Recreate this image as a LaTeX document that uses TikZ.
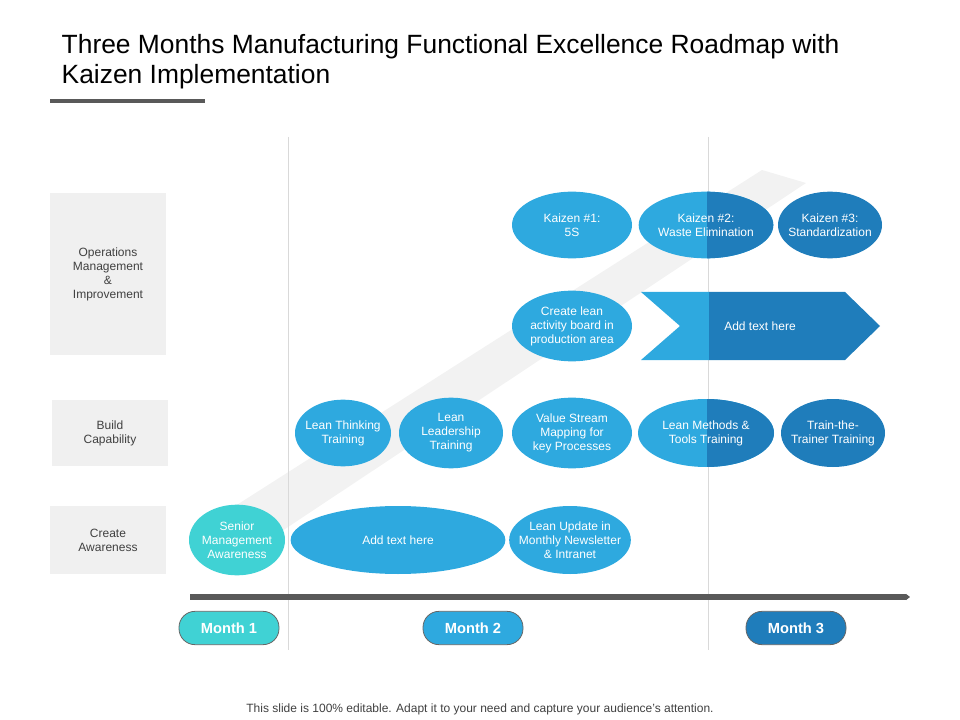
\documentclass[tikz,border=0pt]{standalone}
\usepackage{fontspec}
\setmainfont{Liberation Sans}
\usetikzlibrary{shapes.geometric, arrows.meta}
\definecolor{lightblue}{RGB}{46,169,223}
\definecolor{darkblue}{RGB}{31,125,187}
\definecolor{tealblue}{RGB}{64,210,212}
\definecolor{boxgray}{RGB}{240,240,240}
\definecolor{linegray}{RGB}{89,89,89}
\tikzset{
  step ell/.style={ellipse, fill=lightblue, text=white, inner xsep=-6pt, inner ysep=-3pt,
                   align=center, font=\fontsize{9}{10.5}\selectfont},
  row box/.style={fill=boxgray, align=center, font=\fontsize{9}{10.5}\selectfont, text=black!75},
  month btn/.style={rounded corners=12pt, draw=black!60, line width=0.6pt, text=white,
                    minimum width=75pt, minimum height=25pt, font=\bfseries\fontsize{11}{12}\selectfont}
}
\begin{document}
\begin{tikzpicture}[x=0.75pt,y=-0.75pt]
\useasboundingbox (0,0) rectangle (960,720);
% title
\node [anchor=north west, align=left, font=\fontsize{19.8}{22.5}\selectfont] (title) at (57,30)
  {Three Months Manufacturing Functional Excellence Roadmap with\\Kaizen Implementation};
\draw [linegray, line width=2.3pt] (50,101) -- (205,101);
% background band and guides
\fill [black!5] (232,508) -- (762,170) -- (806,183) -- (276,535) -- cycle;
\draw [black!15, line width=0.6pt] (288,137) -- (288,650);
\draw [black!15, line width=0.6pt] (708,137) -- (708,650);
% row labels
\node [row box, minimum width=87pt, minimum height=122pt] (ops) at (108,274)
  {Operations\\Management\\\&\\Improvement};
\node [row box, minimum width=87pt, minimum height=50pt] (build) at (110,433) {Build\\Capability};
\node [row box, minimum width=87pt, minimum height=51pt] (aware) at (108,540) {Create\\Awareness};
% operations row
\node [step ell, minimum width=90pt, minimum height=50pt] (kz1) at (572,225) {Kaizen \#1:\\5S};
\node [step ell, minimum width=101pt, minimum height=50pt] (kz2) at (706,225) {};
\begin{scope}
  \clip (707,150) rectangle (800,300);
  \fill [darkblue] (kz2.center) ellipse [x radius=67.3, y radius=33.3];
\end{scope}
\node [text=white, align=center, font=\fontsize{9}{10.5}\selectfont] at (kz2.center) {Kaizen \#2:\\Waste Elimination};
\node [step ell, fill=darkblue, minimum width=78pt, minimum height=50pt] (kz3) at (830,225) {Kaizen \#3:\\Standardization};
\node [step ell, minimum width=90pt, minimum height=53pt] (board) at (572,326)
  {Create lean\\activity board in\\production area};
\fill [lightblue] (641,292) -- (709,292) -- (709,360) -- (641,360) -- (680,326) -- cycle;
\fill [darkblue] (709,292) -- (845,292) -- (880,326) -- (845,360) -- (709,360) -- cycle;
\node [text=white, font=\fontsize{9}{10.5}\selectfont] (chev) at (760,326) {Add text here};
% capability row
\node [step ell, minimum width=72pt, minimum height=50pt] (think) at (343,433) {Lean Thinking\\Training};
\node [step ell, minimum width=78pt, minimum height=53pt] (lead) at (451,433) {Lean\\Leadership\\Training};
\node [step ell, minimum width=90pt, minimum height=53pt] (vsm) at (572,433) {Value Stream\\Mapping for\\key Processes};
\node [step ell, minimum width=102pt, minimum height=51pt] (tools) at (706,433) {};
\begin{scope}
  \clip (707,380) rectangle (800,490);
  \fill [darkblue] (tools.center) ellipse [x radius=68, y radius=34];
\end{scope}
\node [text=white, align=center, font=\fontsize{9}{10.5}\selectfont] at (tools.center) {Lean Methods \&\\Tools Training};
\node [step ell, fill=darkblue, minimum width=78pt, minimum height=51pt] (trainer) at (833,433) {Train-the-\\Trainer Training};
% awareness row
\node [step ell, fill=tealblue, minimum width=72pt, minimum height=53pt] (senior) at (237,540) {Senior\\Management\\Awareness};
\node [step ell, minimum width=161pt, minimum height=51pt] (addtext) at (398,540) {Add text here};
\node [step ell, minimum width=90pt, minimum height=51pt] (update) at (570,540) {Lean Update in\\Monthly Newsletter\\\& Intranet};
% timeline
\coordinate (tstart) at (190,597);
\coordinate (tend) at (910,597);
\draw [linegray, line width=4.5pt, -{Triangle[length=3pt,width=4.5pt]}] (tstart) -- (tend);
\node [month btn, fill=tealblue] (m1) at (229,628) {Month 1};
\node [month btn, fill=lightblue] (m2) at (473,628) {Month 2};
\node [month btn, fill=darkblue] (m3) at (796,628) {Month 3};
% footer
\node [font=\fontsize{9}{10}\selectfont, text=black!75] (foot) at (480,709)
  {This slide is 100\% editable. Adapt it to your need and capture your audience’s attention.};
\end{tikzpicture}
\end{document}
